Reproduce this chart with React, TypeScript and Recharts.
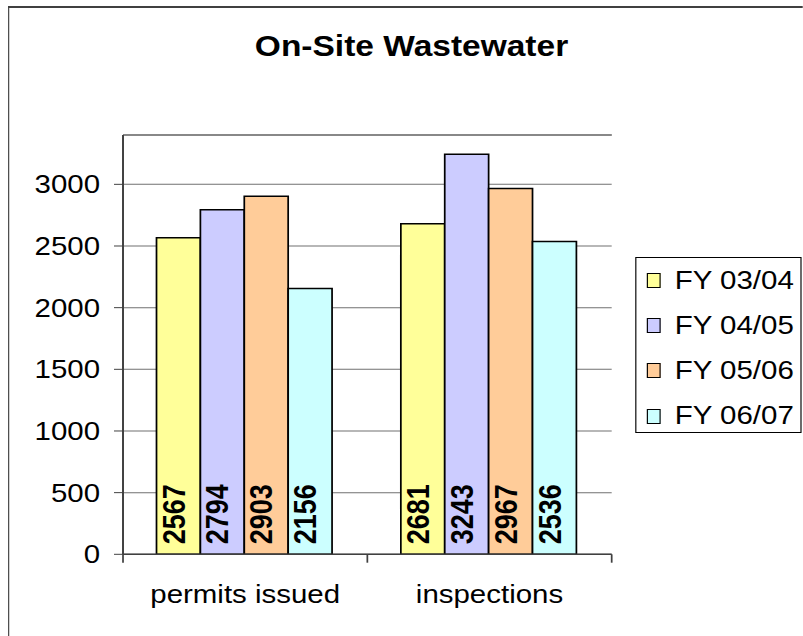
import React from 'react';
import { BarChart, Bar, XAxis, YAxis, CartesianGrid, Legend, LabelList, ReferenceLine } from 'recharts';

const categories = ['permits issued', 'inspections'];
const seriesNames = ['FY 03/04', 'FY 04/05', 'FY 05/06', 'FY 06/07'];
const fy0304 = [2567, 2681];
const fy0405 = [2794, 3243];
const fy0506 = [2903, 2967];
const fy0607 = [2156, 2536];
const yTicks = [0, 500, 1000, 1500, 2000, 2500, 3000];
const yMax = 3400;
const boundaryTicks = [0, 0.25, 0.5, 0.75, 1];
const colors = ['#FFFF99', '#CCCCFF', '#FFCC99', '#CCFFFF'];
const seriesKeys = ['fy0304', 'fy0405', 'fy0506', 'fy0607'];

const data = categories.map((c, i) => ({
  category: c,
  fy0304: fy0304[i],
  fy0405: fy0405[i],
  fy0506: fy0506[i],
  fy0607: fy0607[i],
}));

const FONT = "'Liberation Sans', Arial, Helvetica, sans-serif";
const S = 1.155;
const W = 695;
const H = 636;

const CatTick = (props: any) => {
  const { x, y, payload } = props;
  const v = Number(payload.value) * categories.length;
  if (Math.abs(v - Math.round(v)) < 1e-6) {
    return <line x1={x} x2={x} y1={y} y2={y + 8.4} stroke="#404040" strokeWidth={1.5} />;
  }
  const label = categories[Math.floor(v)];
  return (
    <text x={x} y={y + 49} textAnchor="middle" fontSize={25.5} fill="#000" fontFamily={FONT}>
      {label}
    </text>
  );
};

const BarLabel = (props: any) => {
  const vb = props.viewBox ?? props;
  const x = Number(vb.x);
  const y = Number(vb.y);
  const w = Number(vb.width);
  const h = Number(vb.height);
  const tx = x + w / 2 + 5.3;
  const ty = y + h - 10;
  return (
    <text
      x={tx}
      y={ty}
      transform={`rotate(-90 ${tx} ${ty})`}
      fontSize={27}
      fontWeight="bold"
      fill="#000"
      fontFamily={FONT}
    >
      {props.value}
    </text>
  );
};

const LegendBox = (props: any) => {
  const payload = props.payload || [];
  return (
    <div
      style={{
        width: 143.7,
        height: 176,
        border: '1px solid #000',
        boxSizing: 'border-box',
        background: '#fff',
        position: 'relative',
        fontFamily: FONT,
      }}
    >
      {payload.map((p: any, i: number) => (
        <div
          key={p.value}
          style={{
            position: 'absolute',
            left: 8.4,
            top: 0.5 + i * 45.1,
            height: 45.2,
            display: 'flex',
            alignItems: 'center',
          }}
        >
          <div
            style={{
              width: 12.4,
              height: 15,
              boxSizing: 'border-box',
              border: '1px solid #000',
              background: p.color,
            }}
          />
          <span style={{ marginLeft: 12.1, fontSize: 25.5, lineHeight: '45.2px', whiteSpace: 'nowrap', color: '#000' }}>
            {p.value}
          </span>
        </div>
      ))}
    </div>
  );
};

export default function App() {
  return (
    <div
      style={{
        position: 'absolute',
        left: 0,
        top: 0,
        width: W,
        height: H,
        overflow: 'hidden',
        transform: `scaleX(${S})`,
        transformOrigin: '0 0',
        background: '#fff',
        fontFamily: FONT,
      }}
    >
      <div
        style={{
          position: 'absolute',
          left: 6.9,
          top: 6,
          right: -20,
          bottom: -20,
          borderLeft: '1.75px solid #404040',
          borderTop: '2px solid #404040',
        }}
      />
      <div
        style={{
          position: 'absolute',
          left: 56.3,
          width: 600,
          top: 32.2,
          fontSize: 29,
          lineHeight: '29px',
          fontWeight: 'bold',
          textAlign: 'center',
          color: '#000',
          whiteSpace: 'nowrap',
        }}
      >
        On-Site Wastewater
      </div>
      <BarChart
        width={W}
        height={H}
        data={data}
        margin={{ top: 135, right: 165.4, bottom: 0, left: 0 }}
        barCategoryGap={29}
        barGap={0}
      >
        <CartesianGrid horizontal vertical={false} stroke="#707070" strokeWidth={1} />
        <XAxis dataKey="category" hide height={0} />
        <XAxis
          xAxisId="b"
          type="number"
          domain={[0, 1]}
          ticks={boundaryTicks}
          allowDataOverflow
          interval={0}
          height={81.7}
          tickSize={0}
          tickMargin={0}
          tickLine={false}
          axisLine={{ stroke: '#404040', strokeWidth: 1.5 }}
          tick={<CatTick />}
        />
        <YAxis
          width={106.5}
          domain={[0, yMax]}
          ticks={yTicks}
          allowDataOverflow
          interval={0}
          tickSize={7.8}
          tickMargin={12.1}
          axisLine={{ stroke: '#404040', strokeWidth: 1.7 }}
          tickLine={{ stroke: '#404040', strokeWidth: 1 }}
          tick={{ fontSize: 25.5, fill: '#000', fontFamily: FONT }}
        />
        <YAxis
          yAxisId="r"
          orientation="right"
          width={0}
          domain={[0, yMax]}
          allowDataOverflow
          tick={false}
          tickLine={false}
          axisLine={{ stroke: '#888', strokeWidth: 1.7 }}
        />
        <ReferenceLine y={yMax} stroke="#888" strokeWidth={2} ifOverflow="visible" />
        <Legend
          layout="vertical"
          align="center"
          verticalAlign="middle"
          wrapperStyle={{ left: 550.4, top: 256.7, width: 143.7, height: 176 }}
          content={<LegendBox />}
        />
        {seriesKeys.map((k, i) => (
          <Bar
            key={k}
            dataKey={k}
            name={seriesNames[i]}
            fill={colors[i]}
            stroke="#000"
            strokeWidth={1.5}
            isAnimationActive={false}
          >
            <LabelList dataKey={k} content={<BarLabel />} />
          </Bar>
        ))}
      </BarChart>
    </div>
  );
}
